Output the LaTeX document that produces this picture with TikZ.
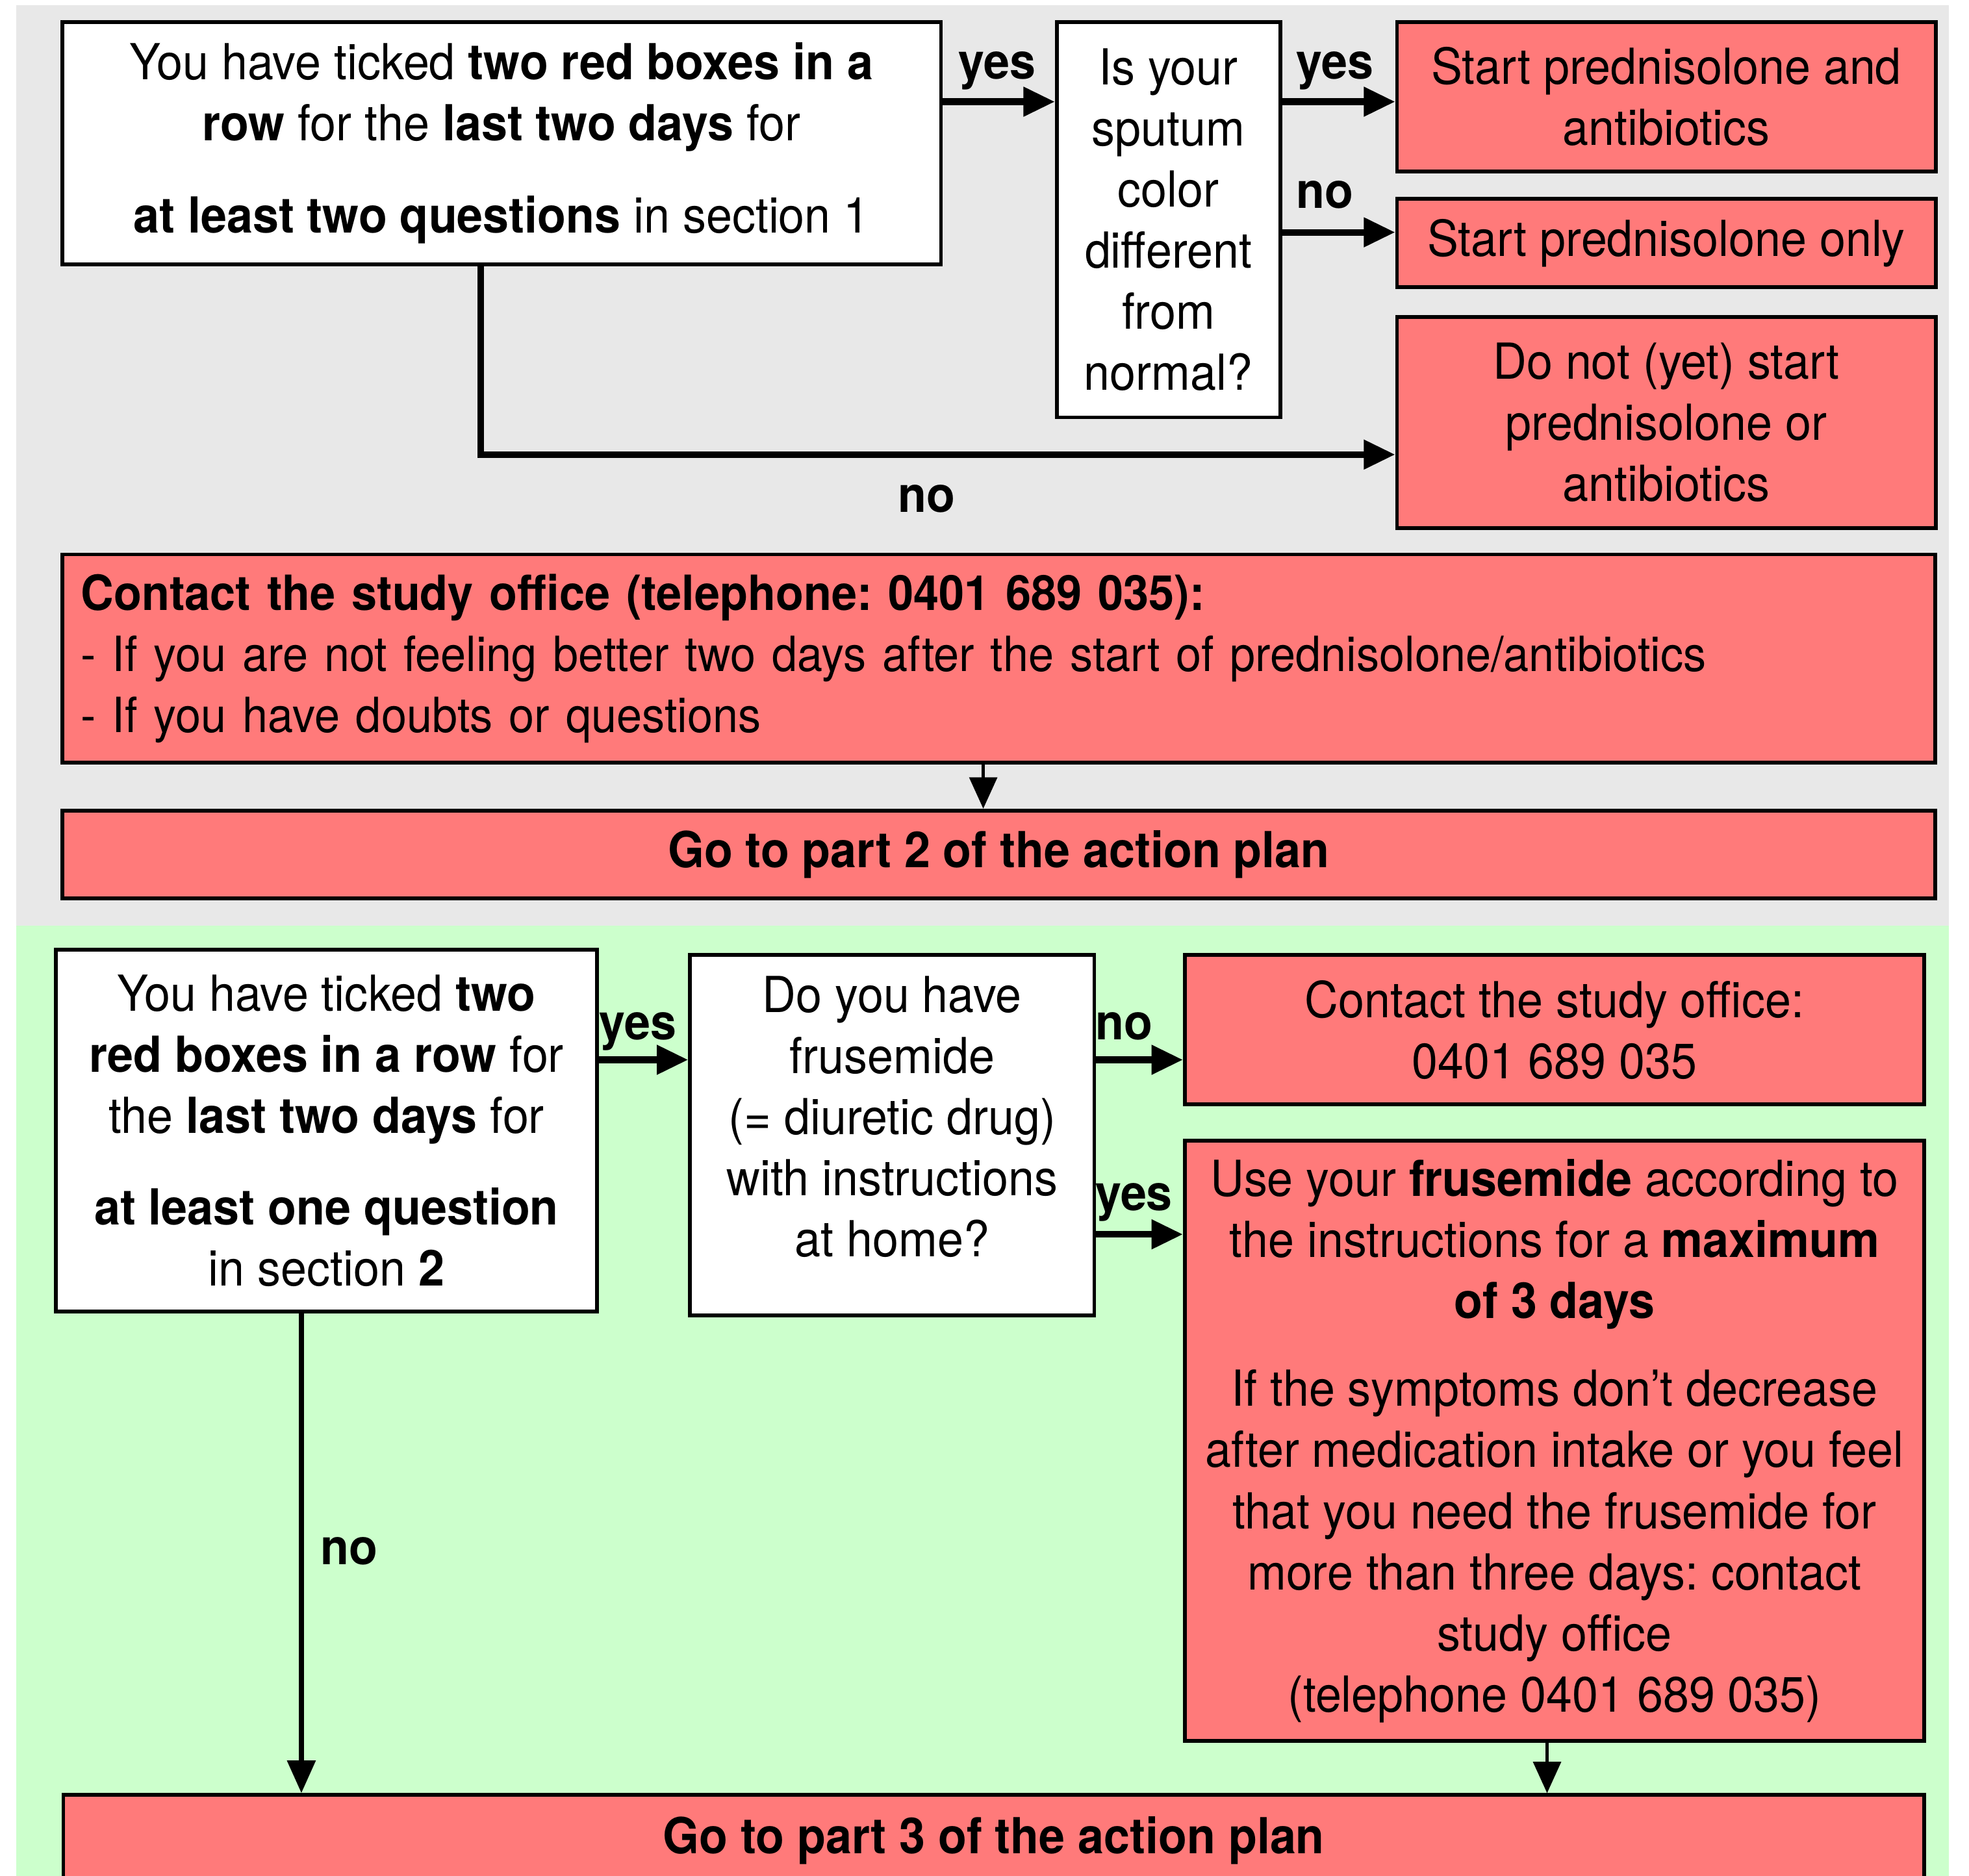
\documentclass[tikz,border=0pt]{standalone}
\usepackage{fontspec}
\setmainfont[FakeStretch=0.94]{TeX Gyre Heros}
\usepackage[dvipsnames,svgnames]{xcolor}
\usetikzlibrary{arrows.meta}

\definecolor{planred}{RGB}{255,122,122}
\definecolor{plangray}{RGB}{232,232,232}
\definecolor{plangreen}{RGB}{204,255,204}

\begin{document}
\frenchspacing
\begin{tikzpicture}[x=0.02cm,y=-0.02cm,
	box/.style={draw,line width=1.7pt,fill=white,inner sep=0pt,align=center,anchor=north west,font=\planfont},
	redbox/.style={box,fill=planred},
	lbl/.style={font=\planfont\bfseries,anchor=base,inner sep=0pt},
	fat/.style={line width=3pt,-{Triangle[length=0.5cm,width=0.45cm]}},
	mid/.style={line width=2.3pt,-{Triangle[length=0.52cm,width=0.44cm]}},
	thin/.style={line width=1.5pt,-{Triangle[length=0.5cm,width=0.44cm]}}
]
\newcommand{\planfont}{\fontsize{22.5}{27.7}\selectfont}

\useasboundingbox (0,0) rectangle (1568,1494);
\clip (0,0) rectangle (1568,1494);
% two panels
\fill[plangray] (13,4) rectangle (1552,737);
\fill[plangreen] (13,737) rectangle (1552,1494);

% part 1 (section 1)
\node[box,minimum width=14cm,minimum height=3.86cm] (boxA) at (48,16)
	{You have ticked \textbf{two red boxes in a}\\
	 \textbf{row} for the \textbf{last two days} for\\[13.9pt]
	 \textbf{at least two questions} in section 1};
\node[box,minimum width=3.56cm,minimum height=6.3cm] (boxQ) at (840,16)
	{Is your\\ sputum\\ color\\ different\\ from\\ normal?};
\node[redbox,minimum width=8.58cm,minimum height=2.38cm] (boxRone) at (1111,16)
	{Start prednisolone and\\ antibiotics};
\node[redbox,minimum width=8.58cm,minimum height=1.4cm] (boxRtwo) at (1111,157)
	{Start prednisolone only};
\node[redbox,align=left,text width=29.24cm,inner xsep=0.3cm,minimum height=3.32cm,
	font=\fontsize{22}{27.7}\selectfont] (boxC) at (48,440)
	{\textbf{Contact the study office (telephone: 0401 689 035):}\\
	 - If you are not feeling better two days after the start of prednisolone/antibiotics\\
	 - If you have doubts or questions};
\node[redbox,minimum width=8.58cm,minimum height=3.36cm] (boxRthree) at (1111,251)
	{Do not (yet) start\\ prednisolone or\\ antibiotics};
\node[redbox,minimum width=29.84cm,minimum height=1.4cm] (boxGtwo) at (48,644)
	{\textbf{Go to part 2 of the action plan}};

\coordinate (yesrow) at (0,81);
\coordinate (norow) at (0,185);
\coordinate (noturn) at (383,362);
\coordinate (downC) at (783,0);

\draw[fat] (boxA.east |- yesrow) -- (boxQ.west |- yesrow);
\draw[fat] (boxQ.east |- yesrow) -- (boxRone.west |- yesrow);
\draw[fat] (boxQ.east |- norow) -- (boxRtwo.west |- norow);
\draw[fat] (boxA.south -| noturn) |- (boxRthree.west |- noturn);
\draw[thin] (boxC.south -| downC) -- (boxGtwo.north -| downC);

\node[lbl] (yesA) at (794,63) {yes};
\node[lbl] (yesQ) at (1063,63) {yes};
\node[lbl] (noQ) at (1055,166) {no};
\node[lbl] (noA) at (738,408) {no};

% part 2 (section 2)
\node[box,minimum width=8.62cm,minimum height=5.76cm] (boxB) at (43,755)
	{You have ticked \textbf{two}\\
	 \textbf{red boxes in a row} for\\
	 the \textbf{last two days} for\\[13.9pt]
	 \textbf{at least one question}\\
	 in section \textbf{2}};
\node[box,minimum width=6.44cm,minimum height=5.74cm,text depth=0.6cm] (boxF) at (548,759)
	{Do you have\\ frusemide\\ (= diuretic drug)\\ with instructions\\ at home?};
\node[redbox,minimum width=11.78cm,minimum height=2.38cm] (boxS) at (942,759)
	{Contact the study office:\\ 0401 689 035};
\node[redbox,minimum width=11.78cm,minimum height=9.56cm] (boxU) at (942,907)
	{Use your \textbf{frusemide} according to\\
	 the instructions for a \textbf{maximum}\\
	 \textbf{of 3 days}\\[12.2pt]
	 If the symptoms don't decrease\\
	 after medication intake or you feel\\
	 that you need the frusemide for\\
	 more than three days: contact\\
	 study office\\
	 (telephone 0401 689 035)};
\node[redbox,minimum width=29.64cm,minimum height=1.44cm] (boxGthree) at (49,1428)
	{\textbf{Go to part 3 of the action plan}};

\coordinate (yesrowB) at (0,844);
\coordinate (yesrowF) at (0,983);
\coordinate (downB) at (240,0);
\coordinate (downU) at (1232,0);

\draw[fat] (boxB.east |- yesrowB) -- (boxF.west |- yesrowB);
\draw[fat] (boxF.east |- yesrowB) -- (boxS.west |- yesrowB);
\draw[fat] (boxF.east |- yesrowF) -- (boxU.west |- yesrowF);
\draw[mid] (boxB.south -| downB) -- (boxGthree.north -| downB);
\draw[thin] (boxU.south -| downU) -- (boxGthree.north -| downU);

\node[lbl] (yesB) at (508,828) {yes};
\node[lbl] (noF) at (895,828) {no};
\node[lbl] (yesF) at (903,964) {yes};
\node[lbl] (noB) at (278,1246) {no};
\end{tikzpicture}
\end{document}
